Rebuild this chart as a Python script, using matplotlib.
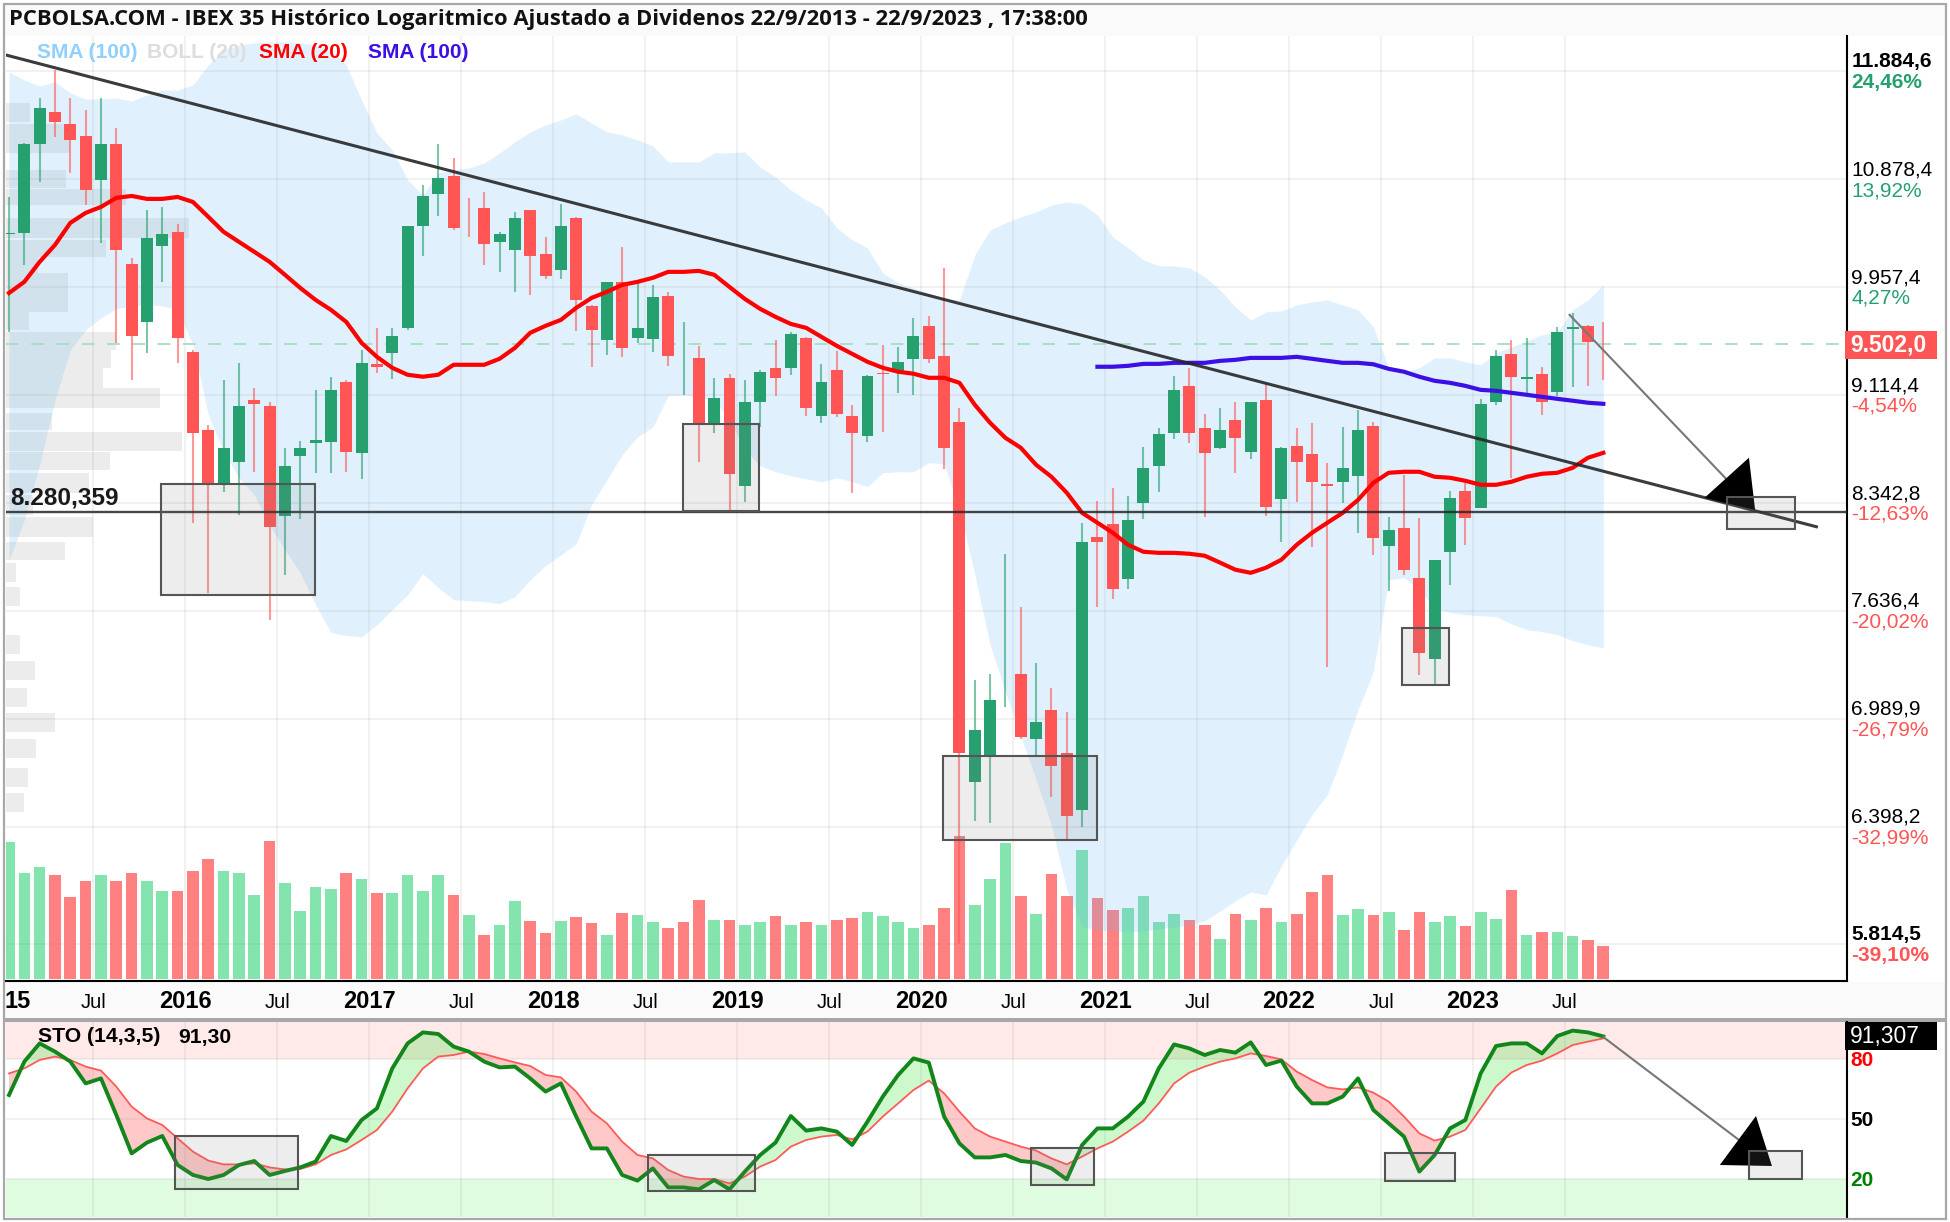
import matplotlib
matplotlib.use("Agg")
import matplotlib.pyplot as plt
from matplotlib.patches import Rectangle, Polygon
from matplotlib.ticker import FixedLocator, FixedFormatter, NullLocator
from matplotlib.transforms import ScaledTranslation
import numpy as np

W, H = 1950, 1222

# ---------- data (monthly, Jan 2015 .. Sep 2023) ----------
open_ = [10400,10410,11196,11493,11381,11270,10871,11196,10149,9677,10299,10418,9443,8859,8468,8630,9079,9035,8255,8672,
         8765,8772,9214,8693,9350,9435,9630,10470,10747,10907,10561,10624,10333,10265,10607,10232,10099,10538,9805,9536,
         10000,9551,9544,9885,9392,9396,8895,9244,8462,9064,9320,9320,9551,8961,9305,8961,8815,9282,9290,9389,
         9646,9412,8917,6640,6778,7525,7254,6879,7044,6795,6490,8115,8202,7840,8343,8601,8837,9183,8873,8729,
         8931,8700,9079,8371,8743,8686,8475,8489,8531,8888,8056,8175,7847,7344,8016,8427,8309,9064,9428,9237,
         9275,9138,9622,9646,9503]
high = [10720,11200,11625,11895,11625,11512,11625,11344,10198,10607,10633,10487,9458,8895,9229,9358,9168,9064,8729,8779,
        9153,9252,9229,9458,9630,9630,10470,10826,11196,11068,10712,10765,10418,10590,10607,10375,10660,10547,9813,10000,
        10290,9991,9975,9918,9677,9489,9244,9275,9229,9305,9536,9598,9559,9350,9450,9042,9267,9497,9481,9709,
        9725,10115,9020,7219,7254,8003,7664,7320,7172,7032,8209,8356,8448,8392,8736,8873,9259,9320,8975,9020,
        9064,9064,9206,8736,8873,8909,8623,8880,9005,8917,8249,8538,8242,7964,8427,8482,9086,9458,9536,9551,
        9328,9638,9749,9654,9677]
low = [9598,10140,10853,11260,10933,10650,10325,9512,9229,9435,10000,9358,8209,7752,8420,8262,8559,7582,7867,8235,
       8552,8552,8559,8510,9282,9237,9614,10215,10555,10435,10375,10140,10082,9918,9893,10024,10024,9606,9328,9420,
       9404,9512,9443,9335,9116,8630,8837,8289,8350,8880,9109,9267,8961,8909,8954,8413,8772,8845,9131,9116,
       9358,8580,5815,6427,6421,7061,6879,6778,6559,6328,6400,7664,7714,7777,8235,8420,8793,8765,8249,8722,
       8552,8651,8255,8082,8350,8049,7296,8343,8142,7996,7765,7866,7248,7190,7802,8062,8309,9042,8517,9131,
       8968,9109,9175,9183,9229]
close = [10410,11196,11531,11399,11233,10782,11196,10265,9567,10367,10401,9551,8837,8475,8729,9035,9049,8182,8601,8729,
         8786,9153,8700,9358,9328,9567,10470,10729,10889,10452,10560,10316,10401,10538,10215,10049,10470,9853,9614,10000,
         9473,9630,9877,9412,9393,8895,9094,8545,9064,9290,9244,9583,9020,9214,8976,8837,9259,9275,9366,9567,
         9389,8729,6800,6929,7102,7526,6890,6975,6728,6458,8082,8082,7777,8229,8587,8830,9153,8837,8693,8859,
         8800,9064,8316,8729,8630,8489,8462,8587,8859,8108,8162,7899,7380,7964,8378,8242,9049,9412,9252,9252,
         9064,9598,9638,9520,9502]
volume = [137,106,112,104,82,98,104,98,106,98,88,88,108,120,108,106,84,138,96,68,
          92,90,106,100,86,86,104,88,104,84,64,44,54,78,58,46,58,62,56,44,
          66,64,57,51,57,79,59,59,54,57,63,54,57,54,59,61,67,63,57,51,
          54,71,143,74,100,136,83,65,105,83,129,81,69,71,83,57,65,59,54,40,
          65,59,71,57,65,87,104,64,70,64,67,49,67,57,63,53,67,60,89,44,
          47,47,43,39,33]
volume_dir = ("GGGRRRGRRGGRRRGGGRGGGGRGRGGGGRGRGGRRGRRGRGG"
              "RRRGRGGRGRGRRGGGGRRRGGGRGRRGRRGGGGRRGRGRGRRRGGRGRRGGRGGRGRGGRR")
boll_upper = [11876,11798,11740,11779,11673,11616,11616,11625,11597,11654,11702,11702,11750,11944,12092,12142,12162,12172,12172,12162,
              12142,12092,11944,11606,11297,11141,10871,10738,10933,10960,10978,11023,11114,11215,11307,11372,11418,11475,11390,11307,
              11279,11233,11178,11032,11032,11032,11114,11114,11123,10987,10898,10782,10694,10624,10452,10350,10282,10074,9991,9950,
              9909,9861,9853,10223,10435,10495,10547,10590,10650,10676,10660,10564,10375,10282,10182,10132,10132,10115,10041,9934,
              9797,9693,9757,9765,9813,9837,9853,9813,9773,9638,9320,9282,9320,9396,9396,9366,9343,9435,9481,9528,
              9575,9598,9773,9853,9975]
boll_lower = [7957,8229,8608,9079,9458,9614,9709,9781,9805,9813,9805,9773,9497,8968,8700,8517,8399,8195,8029,7879,
              7676,7502,7484,7477,7551,7645,7739,7873,7783,7707,7701,7695,7682,7726,7834,7925,7996,8069,8330,8503,
              8679,8808,8880,9109,9116,9094,9079,8931,8715,8601,8559,8531,8510,8489,8517,8489,8455,8552,8559,8559,
              8623,8616,8296,7867,7428,7148,6890,6651,6406,6076,5895,5880,5875,5870,5875,5885,5895,5905,5924,5972,
              6022,6066,6051,6197,6330,6463,6570,6789,7044,7266,7834,7847,7771,7657,7626,7614,7607,7601,7557,7521,
              7508,7490,7453,7428,7410]
sma20 = [9909,10000,10165,10307,10495,10581,10633,10712,10729,10703,10703,10720,10676,10547,10418,10333,10249,10165,10058,9950,
         9853,9773,9677,9512,9404,9320,9267,9252,9267,9343,9343,9343,9389,9473,9591,9646,9693,9789,9869,9918,
         9975,10000,10033,10082,10082,10090,10058,9958,9861,9781,9717,9661,9630,9559,9489,9427,9366,9320,9290,9275,
         9244,9244,9206,9042,8909,8800,8729,8608,8524,8413,8276,8209,8142,8062,8016,8009,8009,8003,7990,7945,
         7899,7879,7912,7964,8062,8142,8209,8276,8364,8482,8552,8559,8559,8524,8517,8496,8468,8468,8489,8524,
         8545,8552,8587,8658,8693]
sma100_start = 71
sma100 = [9328,9328,9335,9350,9350,9358,9358,9358,9373,9381,9396,9396,9396,9404,
          9389,9373,9358,9358,9347,9312,9290,9252,9221,9206,9183,9153,9146,9131,9116,9101,9086,9072,9057,9049]
sto_k = [62,78.7,87.8,83.7,78.7,67.8,70.3,52,32.8,38.2,41.5,27,22,20,22,27,29,22,24,25.8,
         28.7,41.5,39,49.5,55.3,75.3,87.8,93.3,92.5,86.2,83.7,78.7,75.8,76.2,70.3,63.7,67.8,51.2,35.3,35.3,
         22,19.2,25.3,15.8,15.8,14.8,19.5,14.8,23.7,32,38.2,51.5,44.2,45.3,43.7,37,48.7,61.2,72,80.3,
         78.2,51.2,37.8,30.8,30.8,32,29,28.2,25.3,19.8,37,45.3,45.3,51.2,58.7,75.3,87.3,85.3,82,84.5,
         83.2,88.3,77,79.2,66.2,57.8,57.8,61.2,70.3,54.5,47.8,41.2,23.7,32,45.3,49.5,72.8,86.5,87.8,87.8,
         82.8,91.5,94.2,93.3,91.3]
sto_d = [72.8,75.3,79.5,81.2,79.5,76.2,74.2,66.2,56.2,50.3,47,40.3,33.7,29.2,27.3,27.3,27.8,25.8,24.8,25,
         27.3,32,34.8,39.5,44.5,53.7,65.3,75.3,81.2,82,83.7,82.5,80.3,78.3,76.5,72,70.8,63.7,53.7,47.8,
         38.7,32,30.3,24.5,21.2,20,20,17.8,21.2,26.2,29.5,36.2,39.5,41.2,42,39.8,43.7,51.2,57.8,64.5,
         69.2,62.8,53.7,45.3,41.2,38.7,36.2,34.2,30.3,27.3,31.2,35.3,38.7,43.7,49.2,57.8,67.8,73.2,76.2,78.7,
         80.3,82.8,81.5,79.8,73.7,69.5,65.8,64.8,65.8,63.2,58.7,51.2,42.8,39.2,41.2,44.5,55.3,66.2,73.2,77,
         79.2,82.8,87,88.7,90.3]

price_ticks = [11884.6,10878.4,9957.4,9114.4,8342.8,7636.4,6989.9,6398.2,5814.5]
price_labels = ["11.884,6","10.878,4","9.957,4","9.114,4","8.342,8","7.636,4","6.989,9","6.398,2","5.814,5"]
pct_labels = ["24,46%","13,92%","4,27%","-4,54%","-12,63%","-20,02%","-26,79%","-32,99%","-39,10%"]
bold_rows = {0, 8}
last_price = 9502.0
support = 8280.359
x_tick_pos = [5.5,11.5,17.5,23.5,29.5,35.5,41.5,47.5,53.5,59.5,65.5,71.5,77.5,83.5,89.5,95.5,101.5]
x_tick_lab = ["Jul","2016","Jul","2017","Jul","2018","Jul","2019","Jul","2020","Jul","2021","Jul","2022","Jul","2023","Jul"]
# volume-at-price rows: price range and amount
vp_top = [11578,11381,10960,10791,10538,10350,10207,10074,9757,9598,9458,9320,9168,8983,8845,8700,8552,8399,8249,8082,7945,7790,7490,7332,7172,7027,6879,6717,6580]
vp_bot = [11399,11114,10800,10650,10367,10207,10074,9757,9614,9458,9320,9168,9020,8859,8708,8573,8413,8262,8115,7964,7821,7670,7374,7219,7061,6918,6772,6613,6479]
vp_amt = [24,64,60,120,183,100,32,62,23,110,105,97,154,46,176,104,83,27,87,59,10,14,14,29,21,49,30,22,18]

# drawn analysis (x in months since Jan 2015, y in price / stochastic %)
trend_x, trend_y = [-0.2, 117.9], [12042, 8182]
price_boxes = [(9.92,19.96,7739,8475),(43.97,48.92,8289,8902),(60.93,70.97,6328,6783),(90.87,93.93,7190,7533),(112.07,116.5,8169,8384)]
sto_boxes = [(10.83,18.85,15,41.5),(41.68,48.66,14,32),(66.67,70.78,17,35.5),(89.76,94.33,19,33),(113.5,116.96,20,34)]
price_arrow = ([101.8,112.07],[9733,8503])
price_head = [(113.5,8658),(110.6,8378),(113.9,8296)]
sto_arrow = ([104,112.85],[91,39.5])
sto_head = [(113.96,51.5),(111.6,27),(115,26.5)]

RED, GREEN = "#ff5555", "#26a06f"
FONT = "Liberation Sans"
plt.rcParams["font.family"] = [FONT, "DejaVu Sans"]

n = len(close)
x = np.arange(n)
xlim = ((6-9)/15.33, (1847-9)/15.33)
up = np.array(close) >= np.array(open_)
cols = [GREEN if u else RED for u in up]

fig = plt.figure(figsize=(W/100, H/100), dpi=100, facecolor="white")

def rect_ax(l, t, r, b, **kw):
    return fig.add_axes([l/W, 1-b/H, (r-l)/W, (b-t)/H], **kw)

def chrome(l, t, r, b, **kw):
    fig.add_artist(Rectangle((l/W, 1-b/H), (r-l)/W, (b-t)/H, transform=fig.transFigure, **kw))

# page chrome
chrome(5, 5, 1945, 36, fc="#fafafa", ec="none", zorder=-2)
chrome(5, 982, 1945, 1018, fc="#fafafa", ec="none", zorder=-2)
chrome(3, 1018, 1947, 1022, fc="#a8a8a8", ec="none", zorder=-1)
chrome(4, 4, 1946, 1219, fc="none", ec="#a8a8a8", lw=1.6, zorder=20)

# price pane
ax_vp = rect_ax(6, 36, 1847, 981, zorder=1)
ax_vol = rect_ax(6, 36, 1847, 981, zorder=2)
ax = rect_ax(6, 36, 1847, 981, zorder=3)
ax.patch.set_alpha(0)

ylim = (5639.6, 12231)
ax.set_yscale("log")
ax.set_xlim(*xlim)
ax.set_ylim(*ylim)

ax.fill_between(x, boll_lower, boll_upper, color="#66bbf5", alpha=0.2, lw=0, zorder=1)

ax.yaxis.set_major_locator(FixedLocator(price_ticks))
ax.yaxis.set_major_formatter(FixedFormatter(price_labels))
ax.yaxis.set_minor_locator(NullLocator())
ax.yaxis.tick_right()
ax.tick_params(axis="y", which="both", length=0, pad=3.0, labelsize=15, labelcolor="black")
up_off = ScaledTranslation(0, 4/100, fig.dpi_scale_trans)
for k, lab in enumerate(ax.get_yticklabels()):
    lab.set_va("baseline")
    lab.set_transform(lab.get_transform() + up_off)
    if k in bold_rows:
        lab.set_fontweight("bold")
for k, (p, t) in enumerate(zip(price_ticks, pct_labels)):
    ax.annotate(t, xy=(1, p), xycoords=ax.get_yaxis_transform(), xytext=(2.9, -12.2),
                textcoords="offset points", va="baseline", ha="left", fontsize=15,
                color=RED if t.startswith("-") else GREEN,
                fontweight="bold" if k in bold_rows else "normal", annotation_clip=False)

ax.set_xticks(x_tick_pos)
ax.set_xticklabels(x_tick_lab)
ax.tick_params(axis="x", length=0, pad=19.4)
for lab, t in zip(ax.get_xticklabels(), x_tick_lab):
    lab.set_va("baseline")
    if t == "Jul":
        lab.set_fontsize(14.5)
    else:
        lab.set_fontsize(17)
        lab.set_fontweight("bold")
# the year 2015 is cut by the left edge in the reference: only "15" shows
fig.text(5/W, 1-1008/H, "15", ha="left", va="baseline", fontsize=17, fontweight="bold", zorder=12)

ax.grid(True, color="#9a9a9a", alpha=0.14, lw=1.4)
ax.set_axisbelow("line")
for s in ("top", "left"):
    ax.spines[s].set_visible(False)
for s in ("right", "bottom"):
    ax.spines[s].set_linewidth(1.5)
    ax.spines[s].set_color("black")

ax.axhline(last_price, color="#a8dcc3", lw=1.3, dashes=(7, 7), zorder=1.7)
ax.vlines(x, low, high, colors=cols, lw=1.5, alpha=0.6, zorder=2.2)
ax.bar(x, np.abs(np.array(close)-np.array(open_)), bottom=np.minimum(open_, close), width=0.78,
       color=cols, lw=0, zorder=2.4)
ax.plot(x, sma20, color="#ff0000", lw=3.0, zorder=3, solid_joinstyle="round")
ax.plot(np.arange(sma100_start, n), sma100, color="#3c10e4", lw=3.0, zorder=3)
ax.plot(trend_x, trend_y, color="#262626", lw=2.2, alpha=0.9, zorder=3.2)
ax.axhline(support, color="#262626", lw=1.7, alpha=0.85, zorder=3.2)
ax.text(0.05, support*1.002, "8.280,359", fontsize=17.6, fontweight="bold",
        color="#1a1a1a", va="bottom", ha="left", zorder=5)
for x0, x1, y0, y1 in price_boxes:
    ax.add_patch(Rectangle((x0, y0), x1-x0, y1-y0, fc=(0.5, 0.5, 0.5, 0.14), ec="#555555", lw=1.5, zorder=4))
ax.plot(*price_arrow, color="#777777", lw=1.5, zorder=3.5)
ax.add_patch(Polygon(price_head, closed=True, fc="black", ec="none", zorder=3.6))

# last price tag
chrome(1845, 331, 1937, 359, fc=RED, ec="none", zorder=10)
fig.text(1850/W, 1-345/H, "9.502,0", color="white", fontsize=16.5, fontweight="bold", va="center", ha="left", zorder=11)

# volume
ax_vol.set_xlim(*xlim)
ax_vol.set_ylim(-2, 943)
ax_vol.patch.set_alpha(0)
ax_vol.axis("off")
vol_colors = [(1, 0.333, 0.333, 0.75) if d == "R" else (0.31, 0.85, 0.55, 0.7) for d in volume_dir]
ax_vol.bar(x, volume, width=0.76, color=vol_colors, lw=0)

# volume at price
ax_vp.set_yscale("log")
ax_vp.set_ylim(*ylim)
ax_vp.set_xlim(0, 1841)
ax_vp.axis("off")
ax_vp.barh(vp_bot, vp_amt, height=np.array(vp_top)-np.array(vp_bot), align="edge",
           color=(0.5, 0.5, 0.5, 0.15), lw=0)

# legend
for px, t, c in [(37, "SMA (100)", "#8fd0ff"), (147, "BOLL (20)", "#dddddd"), (259, "SMA (20)", "#ff0000"), (368, "SMA (100)", "#3c10e4")]:
    fig.text(px/W, 1-52/H, t, color=c, fontsize=15, fontweight="bold", va="center", ha="left", zorder=12)
fig.text(9/W, 1-20/H, "PCBOLSA.COM - IBEX 35 Histórico Logaritmico Ajustado a Dividenos 22/9/2013 - 22/9/2023 , 17:38:00",
         family="Open Sans", fontweight="bold", fontsize=15.85, va="center", ha="left", color="#111111", zorder=12)

# stochastic pane
ax2 = rect_ax(6, 1022, 1847, 1217, zorder=4)
ax2.set_xlim(*xlim)
ax2.set_ylim(1, 98.5)
ax2.axhspan(80, 98.5, color="#ffe9e9", lw=0, zorder=0.5)
ax2.axhspan(1, 20, color="#e0fce0", lw=0, zorder=0.5)
k = np.array(sto_k, float)
d = np.array(sto_d, float)
ax2.fill_between(x, k, d, where=k >= d, interpolate=True, color="#00e000", alpha=0.2, lw=0, zorder=1)
ax2.fill_between(x, k, d, where=k <= d, interpolate=True, color="#ff2020", alpha=0.24, lw=0, zorder=1)
ax2.plot(x, d, color="#ff5a5a", lw=1.3, zorder=3)
ax2.plot(x, k, color="#12861a", lw=2.8, zorder=3.2)
ax2.set_xticks(x_tick_pos)
ax2.set_xticklabels([])
ax2.set_yticks([80, 50, 20])
ax2.set_yticklabels(["80", "50", "20"])
ax2.yaxis.tick_right()
ax2.tick_params(axis="both", length=0, pad=2.6)
for lab, c in zip(ax2.get_yticklabels(), ["#ff0000", "black", "#008000"]):
    lab.set_color(c)
    lab.set_fontweight("bold")
    lab.set_fontsize(15)
ax2.grid(True, color="#9a9a9a", alpha=0.14, lw=1.4)
ax2.set_axisbelow("line")
for s in ("top", "left", "bottom"):
    ax2.spines[s].set_visible(False)
ax2.spines["right"].set_linewidth(1.5)
for x0, x1, y0, y1 in sto_boxes:
    ax2.add_patch(Rectangle((x0, y0), x1-x0, y1-y0, fc=(0.5, 0.5, 0.5, 0.14), ec="#555555", lw=1.5, zorder=4))
ax2.plot(*sto_arrow, color="#777777", lw=1.5, zorder=3.5)
ax2.add_patch(Polygon(sto_head, closed=True, fc="black", ec="none", zorder=3.6))
fig.text(38/W, 1-1037/H, "STO (14,3,5)", fontsize=15.2, fontweight="bold", va="center", ha="left", zorder=12)
fig.text(178/W, 1-1037/H, "91,30", fontsize=15.2, fontweight="bold", va="center", ha="left", zorder=12)
chrome(1845, 1022, 1937, 1050, fc="black", ec="none", zorder=10)
fig.text(1850/W, 1-1036/H, "91,307", color="white", fontsize=16.5, va="center", ha="left", zorder=11)

fig.savefig("out.png", dpi=100)
